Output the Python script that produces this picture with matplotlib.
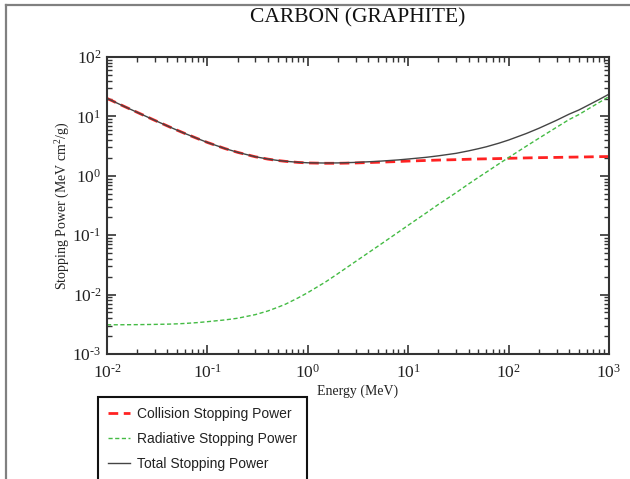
import matplotlib
matplotlib.use("Agg")
import matplotlib.pyplot as plt
from matplotlib.lines import Line2D
from matplotlib.ticker import LogLocator, NullFormatter, FuncFormatter
import math

energy_mev = [0.01, 0.015, 0.02, 0.03, 0.04, 0.05, 0.06, 0.08, 0.1, 0.15, 0.2, 0.3,
              0.4, 0.5, 0.6, 0.8, 1, 1.5, 2, 3, 4, 5, 6, 8, 10, 15, 20, 30, 40, 50,
              60, 80, 100, 150, 200, 300, 400, 500, 600, 800, 1000]
collision = [20.1, 14.6, 11.7, 8.56, 6.90, 5.85, 5.14, 4.22, 3.64, 2.87, 2.48, 2.09,
             1.91, 1.81, 1.75, 1.68, 1.645, 1.625, 1.625, 1.645, 1.67, 1.69, 1.71, 1.74,
             1.77, 1.81, 1.84, 1.87, 1.90, 1.92, 1.93, 1.95, 1.97, 2.00, 2.02, 2.04,
             2.06, 2.07, 2.08, 2.10, 2.11]
radiative = [3.10e-3, 3.11e-3, 3.12e-3, 3.15e-3, 3.18e-3, 3.22e-3, 3.27e-3, 3.38e-3,
             3.50e-3, 3.75e-3, 4.0e-3, 4.6e-3, 5.3e-3, 6.1e-3, 6.9e-3, 8.8e-3, 0.0108,
             0.0163, 0.0226, 0.0362, 0.0505, 0.0653, 0.0808, 0.113, 0.147, 0.235, 0.33,
             0.52, 0.73, 0.94, 1.15, 1.59, 2.03, 3.15, 4.28, 6.55, 8.84, 10.7, 12.9,
             17.2, 21.6]
total = [20.10, 14.60, 11.70, 8.563, 6.903, 5.853, 5.143, 4.223, 3.644, 2.874, 2.484,
         2.095, 1.915, 1.816, 1.757, 1.689, 1.656, 1.641, 1.648, 1.681, 1.721, 1.755,
         1.791, 1.853, 1.917, 2.045, 2.17, 2.39, 2.63, 2.86, 3.08, 3.54, 4.00, 5.15,
         6.30, 8.59, 10.9, 12.8, 15.0, 19.3, 23.7]

title = "CARBON (GRAPHITE)"
xlabel = "Energy (MeV)"
ylabel = "Stopping Power (MeV cm$^2$/g)"
labels = ["Collision Stopping Power", "Radiative Stopping Power", "Total Stopping Power"]

serif = ["Liberation Serif", "DejaVu Serif"]
plt.rcParams["mathtext.fontset"] = "custom"
plt.rcParams["mathtext.rm"] = "Liberation Serif"
plt.rcParams["mathtext.it"] = "Liberation Serif:italic"


def pow10(v, pos):
    e = int(round(math.log10(v)))
    if e < 0:
        return r"$10^{\text{-}%d}$" % (-e)
    return r"$10^{%d}$" % e


W, H = 630, 479
fig = plt.figure(figsize=(W / 100, H / 100), dpi=100)
fig.patch.set_facecolor("white")

ax = fig.add_axes([107 / W, 1 - 354 / H, (609 - 107) / W, (354 - 57) / H])

l_col, = ax.plot(energy_mev, collision, color="#ff2222", lw=2.0, dashes=(3.5, 2.0))
l_rad, = ax.plot(energy_mev, radiative, color="#44bb44", lw=1.0, dashes=(3.0, 1.8))
l_tot, = ax.plot(energy_mev, total, color="#444444", lw=1.0)

ax.set_xscale("log")
ax.set_yscale("log")
ax.set_xlim(1e-2, 1e3)
ax.set_ylim(1e-3, 1e2)

ax.xaxis.set_major_locator(LogLocator(base=10, numticks=10))
ax.yaxis.set_major_locator(LogLocator(base=10, numticks=10))
ax.xaxis.set_minor_locator(LogLocator(base=10, subs=range(2, 10), numticks=100))
ax.yaxis.set_minor_locator(LogLocator(base=10, subs=range(2, 10), numticks=100))
ax.xaxis.set_major_formatter(FuncFormatter(pow10))
ax.yaxis.set_major_formatter(FuncFormatter(pow10))
ax.xaxis.set_minor_formatter(NullFormatter())
ax.yaxis.set_minor_formatter(NullFormatter())

ax.tick_params(which="both", direction="in", top=True, right=True, color="#333333")
ax.tick_params(which="major", length=6.5, width=1.2)
ax.tick_params(which="minor", length=3.6, width=1.0)
ax.tick_params(axis="x", which="major", pad=7)
ax.tick_params(axis="y", which="major", pad=4)
for lab in ax.get_xticklabels() + ax.get_yticklabels():
    lab.set_fontfamily(serif)
    lab.set_fontsize(12.5)
    lab.set_color("#222222")

for sp in ax.spines.values():
    sp.set_linewidth(1.5)
    sp.set_color("#333333")

ax.set_xlabel(xlabel, fontfamily=serif, fontsize=10, color="#222222", labelpad=2)
ax.set_ylabel(ylabel, fontfamily=serif, fontsize=10, color="#222222", labelpad=0)

fig.text(358 / W, 1 - 18 / H, title, ha="center", va="center",
         fontfamily=serif, fontsize=15.5, color="#111111")

leg = fig.legend([l_col, l_rad, l_tot], labels, loc="upper left",
                 bbox_to_anchor=(98 / W, 1 - 397 / H), borderaxespad=0,
                 prop={"family": ["Liberation Sans", "DejaVu Sans"], "size": 10},
                 handlelength=1.6, handletextpad=0.5, labelspacing=0.8,
                 borderpad=0.7, fancybox=False, framealpha=1)
leg.get_frame().set_edgecolor("#111111")
leg.get_frame().set_linewidth(1.5)
for t in leg.get_texts():
    t.set_color("#222222")

# outer frame lines (top and left)
fig.add_artist(Line2D([6 / W, 1], [1 - 5 / H, 1 - 5 / H], transform=fig.transFigure,
                      color="#808080", lw=1.6))
fig.add_artist(Line2D([6 / W, 6 / W], [0, 1 - 5 / H], transform=fig.transFigure,
                      color="#808080", lw=1.6))

fig.savefig("out.png", dpi=100)
